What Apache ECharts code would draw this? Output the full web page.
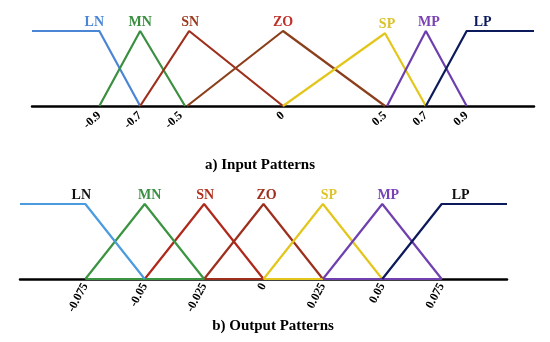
<!DOCTYPE html>
<html>
<head>
<meta charset="utf-8">
<script src="https://cdn.jsdelivr.net/npm/echarts@6/dist/echarts.min.js"></script>
<style>html,body{margin:0;padding:0;background:#fff}#c{width:550px;height:342px}</style>
</head>
<body>
<div id="c"></div>
<script>
// ---- data ----
const setNames = ['LN', 'MN', 'SN', 'ZO', 'SP', 'MP', 'LP'];

// Input patterns: [x, membership]
const inLN = [[-1.23, 1], [-0.9, 1], [-0.7, 0]];
const inMN = [[-0.9, 0], [-0.7, 1], [-0.48, 0]];
const inSN = [[-0.7, 0], [-0.46, 1], [0, 0]];
const inZO = [[-0.47, 0], [0, 1], [0.5, 0]];
const inSP = [[0, 0], [0.5, 0.97], [0.7, 0]];
const inMP = [[0.51, 0], [0.7, 1], [0.9, 0]];
const inLP = [[0.7, 0], [0.9, 1], [1.23, 1]];
const inTicks = [-0.9, -0.7, -0.5, 0, 0.5, 0.7, 0.9];
const inRange = [-1.23, 1.23];

// Output patterns
const outLN = [[-0.1025, 1], [-0.075, 1], [-0.05, 0]];
const outMN = [[-0.075, 0], [-0.05, 1], [-0.025, 0], [-0.075, 0]];
const outSN = [[-0.05, 0], [-0.025, 1], [0, 0], [-0.05, 0]];
const outZO = [[-0.025, 0], [0, 1], [0.025, 0], [-0.025, 0]];
const outSP = [[0, 0], [0.025, 1], [0.05, 0], [0, 0]];
const outMP = [[0.025, 0], [0.05, 1], [0.075, 0], [0.025, 0]];
const outLP = [[0.05, 0], [0.075, 1], [0.1025, 1]];
const outTicks = [-0.075, -0.05, -0.025, 0, 0.025, 0.05, 0.075];
const outRange = [-0.1025, 0.1025];

const titles = ['a) Input Patterns', 'b) Output Patterns'];

// ---- styles ----
const FONT = '"Liberation Serif", "Times New Roman", serif';
const inColors = {LN:'#4b86d6', MN:'#3b8f40', SN:'#9e2f1c', ZO:'#8c3f1c', SP:'#e3c61c', MP:'#6d3fae', LP:'#0c1a5c'};
const inLabelColors = {LN:'#4b86d6', MN:'#3b8f40', SN:'#9c3a1e', ZO:'#c0302a', SP:'#d9c22a', MP:'#7a42b4', LP:'#0c1a5c'};
const outColors = {LN:'#4b9be0', MN:'#3b9440', SN:'#b0281a', ZO:'#9c301c', SP:'#e3c61c', MP:'#7040b0', LP:'#0c1a5c'};
const outLabelColors = {LN:'#111', MN:'#3b8f40', SN:'#b0301e', ZO:'#a0301e', SP:'#e0c32a', MP:'#7a42b4', LP:'#111'};
const inOffsets = {LN:[-5,3], MN:[0,3], SN:[1,3], ZO:[0,3], SP:[2,3], MP:[3,3], LP:[16,3]};
const outOffsets = {LN:[-4,3], MN:[5,3], SN:[1,3], ZO:[3,3], SP:[6,3], MP:[6,3], LP:[19,3]};

function mkSeries(name, pts, idx, colors, labelColors, offsets, z) {
  // label goes on the first point whose membership is the max
  let li = 0; let mx = -1;
  pts.forEach((p, i) => { if (p[1] > mx) { mx = p[1]; li = i; } });
  if (name === 'LN') li = 1;
  return {type: 'line', name, xAxisIndex: idx, yAxisIndex: idx, data: pts,
    symbol: 'none', z,
    lineStyle: {color: colors[name], width: 2.2}, itemStyle: {color: colors[name]}, animation: false,
    markPoint: {
      symbol: 'circle', symbolSize: 1, silent: true, animation: false,
      itemStyle: {color: colors[name], opacity: 0},
      label: {show: true, formatter: name, position: 'top', distance: 4, offset: offsets[name],
        color: labelColors[name], opacity: 1, fontFamily: FONT, fontWeight: 'bold', fontSize: 14},
      data: [{coord: pts[li]}]
    }};
}

const inSets = {LN: inLN, MN: inMN, SN: inSN, ZO: inZO, SP: inSP, MP: inMP, LP: inLP};
const outSets = {LN: outLN, MN: outMN, SN: outSN, ZO: outZO, SP: outSP, MP: outMP, LP: outLP};
const outOrder = ['SN', 'ZO', 'MN', 'SP', 'MP', 'LN', 'LP'];

const series = [];
setNames.forEach((n, i) => series.push(mkSeries(n, inSets[n], 0, inColors, inLabelColors, inOffsets, 3 + i)));
outOrder.forEach((n, i) => series.push(mkSeries(n, outSets[n], 1, outColors, outLabelColors, outOffsets, 3 + i)));

function xAx(idx, range, ticks, rot, margin) {
  return {type: 'value', gridIndex: idx, min: range[0], max: range[1],
    splitLine: {show: false}, axisTick: {show: false},
    axisLine: {lineStyle: {color: '#000', width: 2.5}},
    axisLabel: {customValues: ticks, rotate: rot, margin: margin, color: '#000',
      fontFamily: FONT, fontWeight: 'bold', fontSize: 12, formatter: v => String(v)}};
}

const chart = echarts.init(document.getElementById('c'), null, {renderer: 'canvas'});
chart.setOption({
  animation: false,
  backgroundColor: '#fff',
  title: [
    {text: titles[0], left: 255, top: 153, textAlign: 'center',
      textStyle: {fontFamily: FONT, fontWeight: 'bold', fontSize: 15, color: '#000'}},
    {text: titles[1], left: 268, top: 314, textAlign: 'center',
      textStyle: {fontFamily: FONT, fontWeight: 'bold', fontSize: 15, color: '#000'}}
  ],
  grid: [
    {left: 32, right: 16, top: 31, height: 75},
    {left: 20, right: 43, top: 204, height: 75}
  ],
  xAxis: [xAx(0, inRange, inTicks, 42, 8), xAx(1, outRange, outTicks, 62, 5)],
  yAxis: [
    {type: 'value', gridIndex: 0, min: 0, max: 1, show: false},
    {type: 'value', gridIndex: 1, min: 0, max: 1, show: false}
  ],
  series
});
</script>
</body>
</html>
